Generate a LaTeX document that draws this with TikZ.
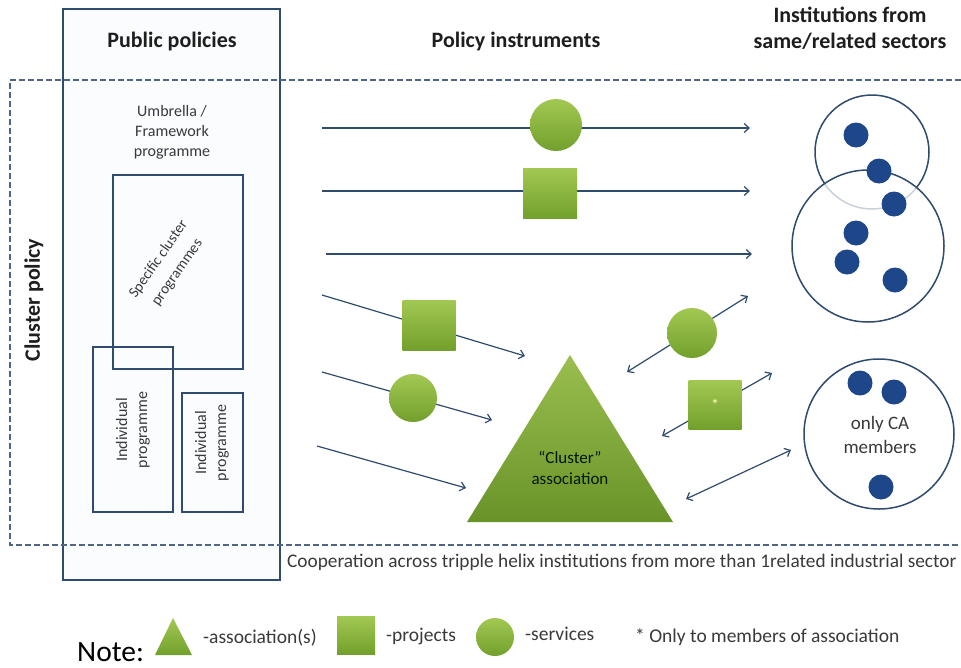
\documentclass[tikz,border=0pt]{standalone}
\usepackage{fontspec}
\setmainfont{Carlito}
\usetikzlibrary{arrows.meta,shapes.geometric,calc}
\definecolor{navy}{HTML}{2F4B6E}
\definecolor{dotblue}{HTML}{1D4788}
\definecolor{gtop}{HTML}{A2C853}
\definecolor{gbot}{HTML}{72A02C}
\definecolor{headtxt}{HTML}{1E1E1E}
\definecolor{bodytxt}{HTML}{3A3A3A}
\definecolor{paletint}{HTML}{FAFCFE}

\tikzset{
  tip/.tip={Straight Barb[length=5pt,width=9pt,line width=1.2pt]},
  flow/.style={draw=navy, line width=1.2pt, -tip},
  twoway/.style={draw=navy, line width=1.2pt, tip-tip},
  greenfill/.style={top color=gtop, bottom color=gbot, draw=none},
  svc/.style={circle, greenfill, minimum size=#1, inner sep=0pt},
  prj/.style={rectangle, greenfill, minimum width=54pt, minimum height=50pt, inner sep=0pt},
  progbox/.style={draw=navy, line width=1.3pt},
  group/.style={circle, draw=navy, line width=1.5pt, inner sep=0pt, minimum size=#1},
  member/.style={circle, fill=dotblue, minimum size=25pt, inner sep=0pt},
  head/.style={font=\fontsize{22}{26}\selectfont\bfseries, text=headtxt, align=center},
  small/.style={font=\fontsize{16}{20}\selectfont, text=bodytxt, align=center},
  legendtxt/.style={anchor=west, font=\fontsize{19.5}{22}\selectfont, text=bodytxt, inner sep=0pt},
}

\begin{document}
\begin{tikzpicture}[x=1pt,y=-1pt]
\useasboundingbox[fill=white] (0,0) rectangle (961,667);

% public policies column
\draw[progbox, fill=paletint] (63,9) rectangle (280,580);
\node[head] (pp) at (172,42) {Public policies};
\node[small] (umb) at (172,132) {Umbrella /\\Framework\\programme};

\draw[progbox] (113,175) rectangle (243,369);
\node[small, font=\fontsize{15}{23}\selectfont, rotate=55] (spec) at (168,266) {Specific cluster\\programmes};
\draw[progbox] (93,347) rectangle (173,512);
\node[small, rotate=90] (ind1) at (133,430) {Individual\\programme};
\draw[progbox] (182,393) rectangle (243,512);
\node[small, rotate=90] (ind2) at (212,443) {Individual\\programme};

% cluster policy frame
\draw[navy!85, line width=1.6pt, dash pattern=on 6pt off 3pt]
  (961,80) -- (10,80) -- (10,545) -- (961,545);
\node[head, rotate=90] (cp) at (34,300) {Cluster policy};

% column headings
\node[head] (pi) at (516,42) {Policy instruments};
\node[head] (inst) at (850,28) {Institutions from\\same/related sectors};

% direct instruments towards the institutions
\coordinate (r1s) at (322,128); \coordinate (r1e) at (750,128);
\coordinate (r2s) at (322,191); \coordinate (r2e) at (750,191);
\coordinate (r3s) at (326,254); \coordinate (r3e) at (752,254);
\draw[flow] (r1s) -- (r1e);
\draw[flow] (r2s) -- (r2e);
\draw[flow] (r3s) -- (r3e);
\node[svc=52pt] (s1) at (556,125) {};
\node[prj] (p1) at (550,193) {};

% the cluster association
\coordinate (ta) at (570,355);
\coordinate (tl) at (467,522);
\coordinate (tr) at (673,522);
\shade[top color=gtop!95!black, bottom color=gbot!92!black] (ta) -- (tr) -- (tl) -- cycle;
\node[font=\fontsize{17}{21}\selectfont, text=black!85!green!60!black, align=center] (ca) at (570,468) {“Cluster”\\association};

% instruments towards the association
\coordinate (r4s) at (322,295); \coordinate (r4e) at (525,356);
\coordinate (r5s) at (322,372); \coordinate (r5e) at (492,420);
\coordinate (r6s) at (317,446); \coordinate (r6e) at (466,488);
\draw[flow] (r4s) -- (r4e);
\draw[flow] (r5s) -- (r5e);
\draw[flow] (r6s) -- (r6e);
\node[prj, minimum width=53pt] (p2) at (429,325) {};
\node[svc=48pt] (s2) at (413,398) {};

% association and its members
\coordinate (a1s) at (627,372); \coordinate (a1e) at (748,296);
\coordinate (a2s) at (662,436); \coordinate (a2e) at (772,373);
\coordinate (a3s) at (686,499); \coordinate (a3e) at (791,450);
\draw[twoway] (a1s) -- (a1e);
\draw[twoway] (a2s) -- (a2e);
\draw[twoway] (a3s) -- (a3e);
\node[svc=50pt] (s3) at (692,333) {};
\node[prj, minimum width=53pt, minimum height=49pt] (p3) at (715,405) {};
\node[font=\fontsize{16}{16}\selectfont, text=white!80!yellow, inner sep=0pt] (star) at (715,405) {*};

% institutions of the sectors
\node[group=114pt, fill=white] (g1) at (872,152) {};
\node[group=152pt, fill=white, fill opacity=0.75] (g2) at (868,246) {};
\node[member] (m1) at (856,135) {};
\node[member] (m2) at (879,171) {};
\node[member] (m3) at (894,204) {};
\node[member] (m4) at (856,233) {};
\node[member] (m5) at (847,262) {};
\node[member] (m6) at (895,280) {};

\node[group=150pt, fill=white] (g3) at (879,434) {};
\node[member] (m7) at (860,383) {};
\node[member] (m8) at (894,392) {};
\node[member] (m9) at (881,487) {};
\node[font=\fontsize{19}{24}\selectfont, text=bodytxt, align=center] (onlyca) at (880,435) {only CA\\members};

% caption of the frame
\node[anchor=west, font=\fontsize{19.3}{22}\selectfont, text=bodytxt, inner sep=0pt] (coop) at (287,562)
  {Cooperation across tripple helix institutions from more than 1related industrial sector};

% legend
\node[anchor=west, font=\fontsize{29.5}{32}\selectfont, text=black, inner sep=0pt] (note) at (77,652) {Note:};
\coordinate (la) at (173,618); \coordinate (ll) at (155,655); \coordinate (lr) at (192,655);
\shade[top color=gtop, bottom color=gbot] (la) -- (lr) -- (ll) -- cycle;
\node[legendtxt] (lt1) at (203,638) {-association(s)};
\node[prj, minimum width=38pt, minimum height=38pt] (lsq) at (356,635) {};
\node[legendtxt] (lt2) at (386,636) {-projects};
\node[svc=38pt] (lci) at (495,637) {};
\node[legendtxt] (lt3) at (525,634) {-services};
\node[legendtxt] (lt4) at (635,637) {* Only to members of association};
\end{tikzpicture}
\end{document}
